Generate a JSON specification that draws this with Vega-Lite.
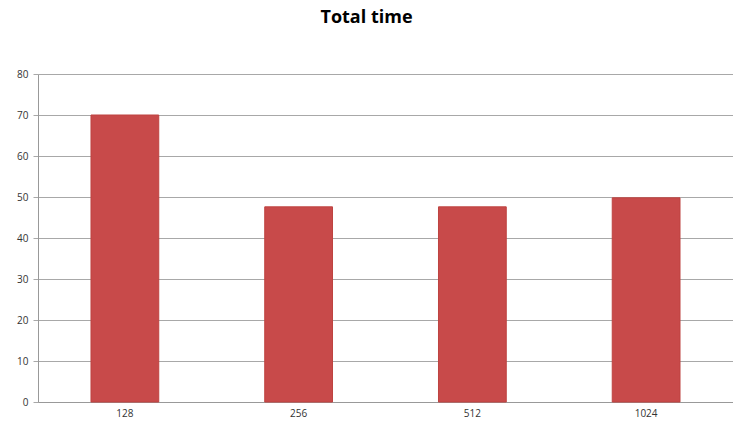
{
  "$schema": "https://vega.github.io/schema/vega-lite/v6.json",
  "autosize": "none",
  "width": 695,
  "height": 328,
  "padding": {"left": 38, "top": 74, "right": 0, "bottom": 27},
  "background": "white",
  "title": {"text": "Total time", "fontSize": 18, "font": "Open Sans", "fontWeight": "bold", "color": "#000000", "anchor": "middle", "offset": 42, "dx": -19},
  "data": {"values": [
    {"size": "128", "time": 70},
    {"size": "256", "time": 47.6},
    {"size": "512", "time": 47.6},
    {"size": "1024", "time": 49.8}
  ]},
  "mark": {"type": "bar", "color": "#C84A4A", "stroke": "#BE4340", "strokeWidth": 1},
  "encoding": {
    "x": {"field": "size", "type": "nominal", "sort": null, "title": null,
      "scale": {"paddingInner": 0.61, "paddingOuter": 0.305},
      "axis": {"labelAngle": 0, "labelFont": "Open Sans", "labelFontSize": 10, "labelColor": "#333333", "domainColor": "#999999", "ticks": false, "labelPadding": 6}},
    "y": {"field": "time", "type": "quantitative", "title": null,
      "scale": {"domain": [0, 80]},
      "axis": {"values": [0,10,20,30,40,50,60,70,80], "labelFont": "Open Sans", "labelFontSize": 10, "labelColor": "#333333", "domainColor": "#999999", "gridColor": "#A8A8A8", "tickColor": "#A8A8A8", "tickSize": 5, "labelPadding": 5}}
  },
  "config": {"view": {"stroke": null}}
}
